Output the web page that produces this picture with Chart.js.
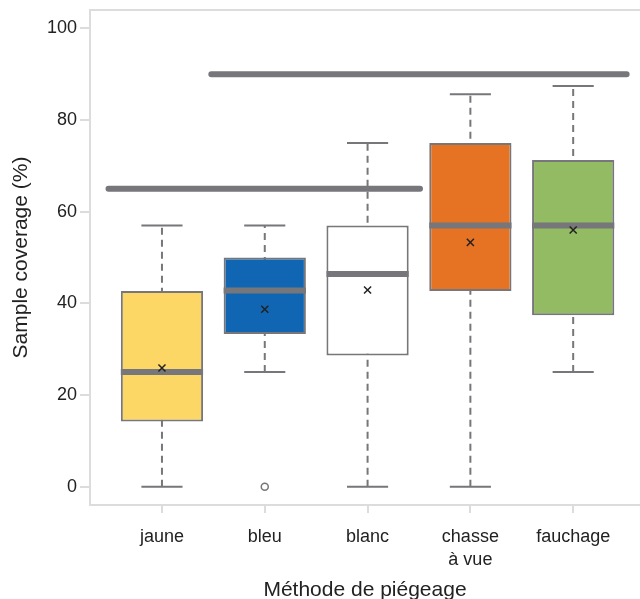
<!DOCTYPE html>
<html>
<head>
<meta charset="utf-8">
<script src="https://cdn.jsdelivr.net/npm/chart.js@4.4.1/dist/chart.umd.min.js"></script>
<style>
  body { margin: 0; background: #fff; }
  #wrap { width: 640px; height: 599px; }
</style>
</head>
<body>
<div id="wrap"><canvas id="box"></canvas></div>
<script>
'use strict';

// ---- donnees ----
var methodes = ['jaune', 'bleu', 'blanc', ['chasse', 'à vue'], 'fauchage'];
var whiskerBas = [0, 25, 0, 0, 25];
var q1 = [14.2, 33.3, 28.6, 42.7, 37.4];
var mediane = [25, 42.8, 46.4, 57, 57];
var q3 = [42.7, 50, 57, 75, 71.3];
var whiskerHaut = [57, 57, 75, 85.6, 87.4];
var moyenne = [25.9, 38.7, 42.9, 53.3, 56];
var outlierMethode = [2];
var outlierValeur = [0];
// groupes de significativite (niveau, debut, fin sur l'axe des methodes)
var groupeNiveau = [65, 90];
var groupeDebut = [0.48, 1.48];
var groupeFin = [3.51, 5.52];
var yTicks = [0, 20, 40, 60, 80, 100];

var couleurs = ['#fcd766', '#1166b3', '#ffffff', '#e67224', '#92bb63'];
var gris = '#77777b';
var police = '"Liberation Sans", Arial, sans-serif';

// ---- preparation des series ----
var boites = methodes.map(function(m, i) { return {x: i + 1, y: [q1[i], q3[i]]}; });

var traitsMediane = [];
var moustaches = [];
var capuchons = [];
methodes.forEach(function(m, i) {
  var x = i + 1;
  traitsMediane.push({x: x - 0.4, y: mediane[i]}, {x: x + 0.4, y: mediane[i]}, {x: x, y: null});
  moustaches.push({x: x, y: whiskerBas[i]}, {x: x, y: whiskerHaut[i]}, {x: x, y: null});
  capuchons.push({x: x - 0.2, y: whiskerBas[i]}, {x: x + 0.2, y: whiskerBas[i]}, {x: x, y: null});
  capuchons.push({x: x - 0.2, y: whiskerHaut[i]}, {x: x + 0.2, y: whiskerHaut[i]}, {x: x, y: null});
});
var pointsMoyenne = moyenne.map(function(v, i) { return {x: i + 1, y: v}; });
var pointsOutlier = outlierValeur.map(function(v, i) { return {x: outlierMethode[i], y: v}; });

var groupes = [];
groupeNiveau.forEach(function(niv, i) {
  groupes.push({x: groupeDebut[i], y: niv}, {x: groupeFin[i], y: niv}, {x: groupeFin[i], y: null});
});

var grisClair = '#dcdcdc';

new Chart(document.getElementById('box').getContext('2d'), {
  type: 'bar',
  data: {
    datasets: [
      {
        type: 'line', data: groupes, borderColor: gris, borderWidth: 6,
        borderCapStyle: 'round', pointRadius: 0, spanGaps: false, order: 0
      },
      {
        type: 'line', data: pointsMoyenne, showLine: false, pointStyle: 'crossRot',
        pointRadius: 5, pointBorderColor: '#222', pointBorderWidth: 1.5, order: 0
      },
      {
        type: 'line', data: pointsOutlier, showLine: false, pointStyle: 'circle',
        pointRadius: 3.5, pointBackgroundColor: '#fff', pointBorderColor: gris,
        pointBorderWidth: 1.5, order: 0
      },
      {
        type: 'line', data: traitsMediane, borderColor: gris, borderWidth: 6,
        borderCapStyle: 'butt', pointRadius: 0, spanGaps: false, order: 1
      },
      {
        type: 'bar', data: boites, backgroundColor: couleurs, borderColor: gris,
        borderWidth: 2, borderSkipped: false, categoryPercentage: 0.8,
        barPercentage: 1.0, order: 2
      },
      {
        type: 'line', data: capuchons, borderColor: gris, borderWidth: 2,
        pointRadius: 0, spanGaps: false, order: 3
      },
      {
        type: 'line', data: moustaches, borderColor: gris, borderWidth: 2,
        borderDash: [7, 5], pointRadius: 0, spanGaps: false, order: 3
      }
    ]
  },
  options: {
    responsive: true,
    maintainAspectRatio: false,
    animation: false,
    layout: { padding: 0, autoPadding: false },
    plugins: { legend: { display: false }, tooltip: { enabled: false } },
    scales: {
      x: {
        type: 'linear', position: 'bottom', min: 0.3, max: 5.65, offset: false,
        afterFit: function(scale) {
          scale.height = 94;
          scale.paddingLeft = 0;
          scale.paddingRight = 0;
        },
        grid: { offset: false, drawOnChartArea: false, color: grisClair, lineWidth: 2, tickLength: 8 },
        border: { color: grisClair, width: 2 },
        ticks: {
          stepSize: 1, includeBounds: false, autoSkip: false, maxRotation: 0,
          color: '#222', padding: 12, font: { family: police, size: 18, lineHeight: 1.3 },
          callback: function(v) { return Number.isInteger(v) ? methodes[v - 1] : ''; }
        },
        title: {
          display: true, text: 'Méthode de piégeage', color: '#222',
          font: { family: police, size: 21, lineHeight: 0.8 }, padding: { top: 0, bottom: 0 }
        }
      },
      x2: {
        type: 'linear', position: 'top', min: 0.3, max: 5.65, offset: false,
        afterFit: function(scale) {
          scale.height = 10;
          scale.paddingLeft = 0;
          scale.paddingRight = 0;
        },
        grid: { drawOnChartArea: false, drawTicks: false },
        border: { color: grisClair, width: 2 },
        ticks: { display: false }
      },
      y: {
        min: -4, max: 104,
        afterFit: function(scale) {
          scale.width = 90;
          scale.paddingTop = 0;
          scale.paddingBottom = 0;
        },
        afterBuildTicks: function(scale) {
          scale.ticks = yTicks.map(function(v) { return {value: v}; });
        },
        grid: { drawOnChartArea: false, color: grisClair, lineWidth: 2, tickLength: 10 },
        border: { color: grisClair, width: 2 },
        ticks: { color: '#222', padding: 3, font: { family: police, size: 18 } },
        title: {
          display: true, text: 'Sample coverage (%)', color: '#222',
          font: { family: police, size: 21 }, padding: { top: 9, bottom: 0 }
        }
      }
    }
  }
});
</script>
</body>
</html>
